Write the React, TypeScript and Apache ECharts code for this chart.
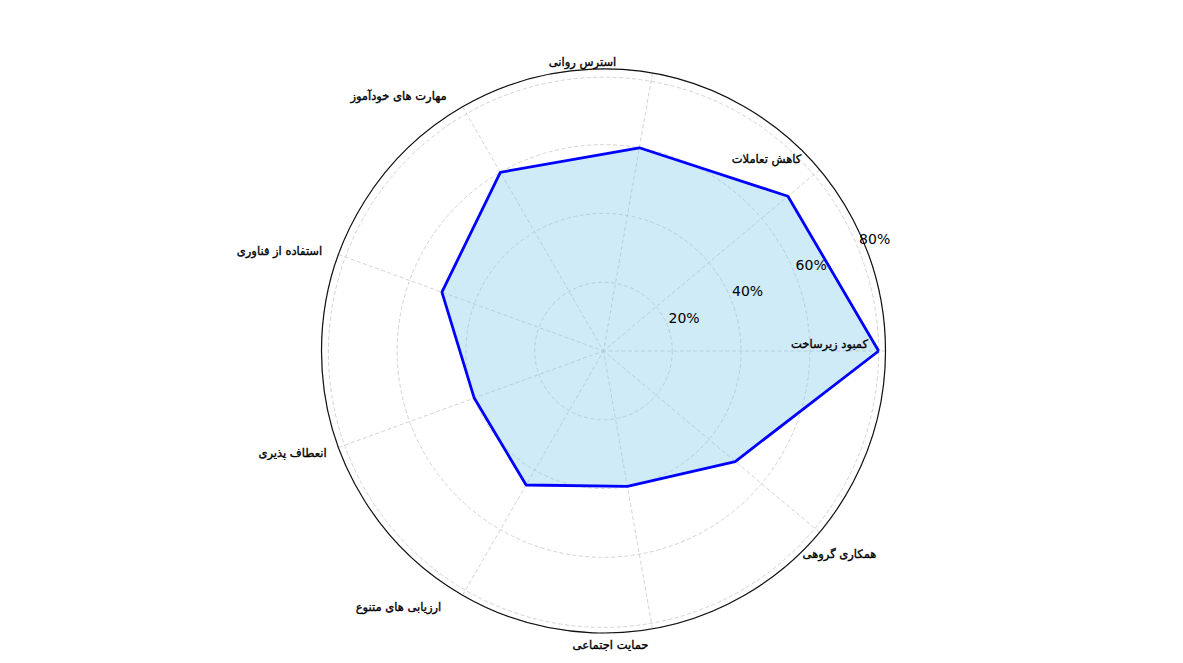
import React, { useEffect, useRef } from "react";
import * as echarts from "echarts";

// ---- data ----
const categories = [
  "کمبود زیرساخت",
  "کاهش تعاملات",
  "استرس روانی",
  "مهارت های خودآموز",
  "استفاده از فناوری",
  "انعطاف پذیری",
  "ارزیابی های متنوع",
  "حمایت اجتماعی",
  "همکاری گروهی",
];
const values = [80, 70, 60, 60, 50, 40, 45, 40, 50];
const radialTicks = [20, 40, 60, 80];
const radialTickLabels = ["20%", "40%", "60%", "80%"];

// ---- layout (not data) ----
const CX = 603.5;
const CY = 351;
const OUTER_R = 282;
const R_MAX = 82;
const TICK_LABEL_ANGLE = 22.5;
// category label centres relative to the polar centre
const labelOffsets: [number, number][] = [
  [226, -7],
  [163, -192],
  [-21, -289],
  [-205, -255],
  [-324, -100],
  [-311, 102],
  [-205, 256],
  [7, 294],
  [236, 203],
];

const FONT = "DejaVu Sans";

export default function App() {
  const ref = useRef<HTMLDivElement>(null);

  useEffect(() => {
    if (!ref.current) return;
    const chart = echarts.init(ref.current, undefined, { renderer: "svg" });

    const gridLine = {
      show: true,
      lineStyle: { color: "#c8c8c8", width: 0.8, type: [4, 2.5] as any },
    };

    const step = 360 / categories.length;
    const closed = values.map((v, i) => [v, i * step]);
    closed.push([values[0], 360]);

    chart.setOption({
      animation: false,
      backgroundColor: "#ffffff",
      polar: [{ center: [CX, CY], radius: OUTER_R }],
      angleAxis: {
        type: "value",
        min: 0,
        max: 360,
        interval: step,
        startAngle: 0,
        clockwise: false,
        axisLine: { show: true, lineStyle: { color: "#111", width: 1.2 } },
        axisTick: { show: false },
        axisLabel: { show: false },
        splitLine: gridLine,
      },
      radiusAxis: {
        type: "value",
        min: 0,
        max: R_MAX,
        interval: 20,
        axisLine: { show: false },
        axisTick: { show: false },
        axisLabel: { show: false },
        splitLine: gridLine,
      },
      series: [
        {
          type: "line",
          coordinateSystem: "polar",
          data: closed,
          symbol: "none",
          lineStyle: { color: "#0000ff", width: 2.8 },
          areaStyle: { color: "rgb(135,206,235)", opacity: 0.4 },
          z: 3,
        },
        {
          type: "scatter",
          coordinateSystem: "polar",
          data: radialTicks.map((t) => [t, TICK_LABEL_ANGLE]),
          symbolSize: 1,
          itemStyle: { color: "rgba(0,0,0,0)" },
          label: {
            show: true,
            position: "inside",
            offset: [17, -7],
            formatter: (p: any) => radialTickLabels[p.dataIndex],
            fontFamily: FONT,
            fontSize: 14,
            color: "#000",
            opacity: 1,
            textBorderWidth: 0,
          },
          z: 4,
        },
      ],
      graphic: categories.map((c, i) => ({
        type: "text",
        x: CX + labelOffsets[i][0],
        y: CY + labelOffsets[i][1],
        z: 10,
        style: {
          text: c,
          fontFamily: FONT,
          fontSize: 11.5,
          fill: "#000",
          stroke: "#000",
          lineWidth: 0.35,
          align: "center",
          verticalAlign: "middle",
        },
      })),
    });

    return () => chart.dispose();
  }, []);

  return (
    <div
      ref={ref}
      style={{
        position: "fixed",
        left: 0,
        top: 0,
        width: 1183,
        height: 663,
        background: "#fff",
      }}
    />
  );
}
